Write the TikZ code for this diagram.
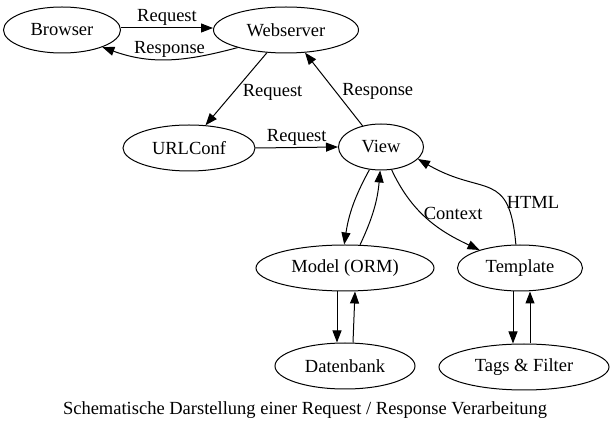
\documentclass[tikz,border=0pt]{standalone}
\usepackage{fontspec}
\setmainfont{Liberation Serif}
\usetikzlibrary{arrows.meta,shapes.geometric}
\begin{document}
\begin{tikzpicture}[x=1pt,y=1pt,
  nd/.style={draw, ellipse, line width=1pt, inner sep=0pt, minimum height=46pt, font=\fontsize{18.5}{22}\selectfont},
  arr/.style={line width=1pt, -{Triangle[length=12pt,width=9pt]}},
  lbl/.style={font=\fontsize{18.5}{22}\selectfont, inner sep=2pt}]
\useasboundingbox (0,0) rectangle (611,-430);
\node[nd, minimum width=117pt] (b) at (62,-30) {Browser};
\node[nd, minimum width=145pt] (w) at (286,-30) {Webserver};
\node[nd, minimum width=132pt] (u) at (189,-148) {URLConf};
\node[nd, minimum width=85pt] (v) at (381,-147) {View};
\node[nd, minimum width=178pt] (m) at (345,-268) {Model (ORM)};
\node[nd, minimum width=125pt] (t) at (520,-268) {Template};
\node[nd, minimum width=140pt] (d) at (345,-366) {Datenbank};
\node[nd, minimum width=170pt] (tf) at (524,-367) {Tags \& Filter};
\node[lbl] (cap) at (305,-410) {Schematische Darstellung einer Request / Response Verarbeitung};

\draw[arr] ([yshift=2pt]b.east) -- node[lbl, above] {Request} ([yshift=2pt]w.west);
\draw[arr] (w.200) to[out=195, in=-20] node[lbl, above, yshift=-1pt] {Response} (b.-23);
\draw[arr] (w.230) -- node[lbl, right, xshift=4pt, yshift=-3pt] {Request} (u.54);
\draw[arr] (v.131) -- node[lbl, right, xshift=6pt, yshift=-2pt] {Response} (w.-50);
\draw[arr] (u.east) -- node[lbl, above] {Request} (v.west);
\draw[arr] (v.-117) to[bend right=10] (m.92);
\draw[arr] (m.57) to[bend right=10] (v.-92);
\draw[arr] (v.-65) to[out=-65, in=155] node[lbl, right, pos=0.43] {Context} (t.156);
\draw[arr] (t.100) to[out=95, in=-30, looseness=1.5] node[lbl, right, pos=0.3, yshift=-3pt] {HTML} (v.-18);
\draw[arr] ([xshift=-8pt]m.south) -- ([xshift=-8pt]d.north);
\draw[arr] ([xshift=8pt]d.north) -- ([xshift=10pt]m.south);
\draw[arr] ([xshift=-7pt]t.south) -- ([xshift=-11pt]tf.north);
\draw[arr] ([xshift=6pt]tf.north) -- ([xshift=10pt]t.south);
\end{tikzpicture}
\end{document}
